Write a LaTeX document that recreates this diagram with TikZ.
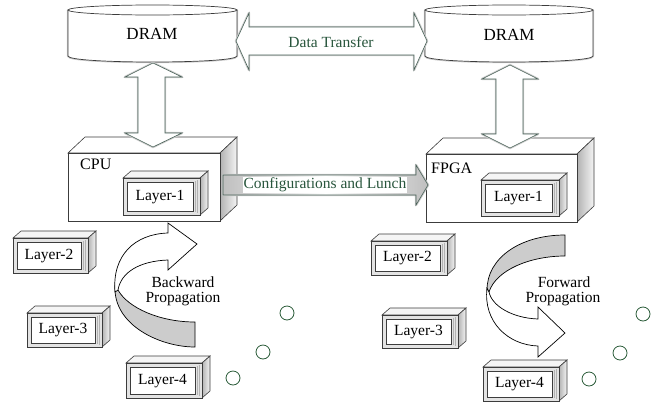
\documentclass[tikz,border=0pt]{standalone}
\usepackage{fontspec}
\setmainfont{Liberation Serif}
\definecolor{txtgreen}{RGB}{40,85,60}
\definecolor{arrline}{RGB}{70,95,85}
\definecolor{circg}{RGB}{40,90,55}
\definecolor{edge}{RGB}{60,60,60}
\tikzset{
  lbl/.style={font=\fontsize{15.5}{17}\selectfont, inner sep=0pt},
  glbl/.style={lbl, text=txtgreen},
  halo/.style={draw=gray!40, line width=2.4pt, line join=round},
  blockarrow/.style={fill=white, draw=arrline, line width=0.6pt, line join=miter},
  face/.style={fill=white, draw=edge, line width=0.6pt},
  sideface/.style={left color=gray!60, right color=gray!8, draw=edge, line width=0.6pt},
  topface/.style={fill=gray!8, draw=edge, line width=0.6pt},
  ring/.style={draw=circg, line width=0.8pt, fill=white},
  ribbon/.style={fill=white, draw=black, line width=0.7pt, line join=miter},
  ribbongray/.style={fill=gray!40, draw=black, line width=0.7pt},
}
% 3D layer box: name, x1, y1, x2, y2, label
\newcommand{\layerbox}[6]{%
  \draw[topface] (#2,#3) -- (#2+8,#3-7) -- (#4+8,#3-7) -- (#4,#3) -- cycle;
  \draw[sideface] (#4,#3) -- (#4+8,#3-7) -- (#4+8,#5-7) -- (#4,#5) -- cycle;
  \draw[fill=gray!22, draw=edge, line width=0.6pt] (#2,#3) rectangle (#4,#5);
  \draw[gray!60, line width=0.5pt] (#4-5,#3+3) -- (#4-5,#5-3) (#4-3,#3+2) -- (#4-3,#5-2);
  \draw[fill=white, draw=edge, line width=0.6pt] (#2+4,#3+4) rectangle (#4-7,#5-4);
  \node[lbl] (#1) at ({(#2+#4)/2-1.5},{(#3+#5)/2+0.5}) {#6};
}
% big 3D box: x1, y1, x2, y2
\newcommand{\bigbox}[4]{%
  \draw[face] (#1,#2) -- (#1+17,#2-16) -- (#3+17,#2-16) -- (#3,#2) -- cycle;
  \draw[sideface] (#3,#2) -- (#3+17,#2-16) -- (#3+17,#4-16) -- (#3,#4) -- cycle;
  \draw[face] (#1,#2) rectangle (#3,#4);
}
% cylinder: x1, x2
\newcommand{\drum}[2]{%
  \draw[halo] (#1,10) -- (#1,56) .. controls (#1,64) and (#2,64) .. (#2,56) -- (#2,10);
  \draw[fill=white, draw=edge, line width=0.7pt] (#1,10) -- (#1,56) .. controls (#1,64) and (#2,64) .. (#2,56) -- (#2,10) -- cycle;
  \draw[fill=white, draw=edge, line width=0.7pt] ({(#1+#2)/2},10) ellipse [x radius={(#2-#1)/2}, y radius=5];
}
\begin{document}
\begin{tikzpicture}[x=1pt,y=-1pt]
\useasboundingbox (0,0) rectangle (660,407);

% DRAM cylinders
\drum{68}{237}
\drum{425}{593}
\node[lbl, font=\fontsize{17}{19}\selectfont] (dramL) at (152,34) {DRAM};
\node[lbl, font=\fontsize{17}{19}\selectfont] (dramR) at (509,35) {DRAM};

% Data transfer double arrow
\coordinate (dtL) at (236,41);
\coordinate (dtR) at (427,41);
\draw[halo] (dtL) -- (249,13) -- (249,27) -- (414,27) -- (414,13) -- (dtR) -- (414,70) -- (414,55) -- (249,55) -- (249,70) -- cycle;
\draw[blockarrow] (dtL) -- (249,13) -- (249,27) -- (414,27) -- (414,13) -- (dtR) -- (414,70) -- (414,55) -- (249,55) -- (249,70) -- cycle;
\node[glbl] (dt) at (331,42) {Data Transfer};

% CPU and FPGA boxes
\bigbox{68}{153}{220}{221}
\bigbox{426}{154}{577}{222}
\node[lbl, anchor=west, font=\fontsize{16}{18}\selectfont] (cpu) at (80,164) {CPU};
\node[lbl, anchor=west, font=\fontsize{16}{18}\selectfont] (fpga) at (431,168) {FPGA};

% vertical double arrows
\coordinate (vL1) at (153,63);
\coordinate (vL2) at (153,147);
\draw[halo] (vL1) -- (182,77) -- (165,77) -- (165,133) -- (182,133) -- (vL2) -- (125,133) -- (138,133) -- (138,77) -- (125,77) -- cycle;
\draw[blockarrow] (vL1) -- (182,77) -- (165,77) -- (165,133) -- (182,133) -- (vL2) -- (125,133) -- (138,133) -- (138,77) -- (125,77) -- cycle;
\coordinate (vR1) at (510,65);
\coordinate (vR2) at (510,148);
\draw[halo] (vR1) -- (538,79) -- (523,79) -- (523,134) -- (538,134) -- (vR2) -- (482,134) -- (496,134) -- (496,79) -- (482,79) -- cycle;
\draw[blockarrow] (vR1) -- (538,79) -- (523,79) -- (523,134) -- (538,134) -- (vR2) -- (482,134) -- (496,134) -- (496,79) -- (482,79) -- cycle;

% Layer-1 boxes inside
\layerbox{cL1}{123}{178}{200}{215}{Layer-1}
\layerbox{fL1}{481}{180}{559}{216}{Layer-1}

% Configurations arrow
\coordinate (cfS) at (223,185);
\coordinate (cfT) at (428,185);
\draw[halo] (223,175) -- (416,175) -- (416,165) -- (cfT) -- (416,205) -- (416,195) -- (223,195) -- cycle;
\draw[blockarrow, left color=gray!50, right color=gray!50, middle color=white] (223,175) -- (416,175) -- (416,165) -- (cfT) -- (416,205) -- (416,195) -- (223,195) -- cycle;
\node[glbl, fill=white, inner xsep=1pt, inner ysep=1pt] (cf) at (325,185) {Configurations and Lunch};

% other layers
\layerbox{cL2}{13}{238}{88}{273}{Layer-2}
\layerbox{cL3}{27}{313}{102}{347}{Layer-3}
\layerbox{cL4}{126}{363}{202}{398}{Layer-4}
\layerbox{fL2}{371}{241}{447}{275}{Layer-2}
\layerbox{fL3}{382}{315}{458}{348}{Layer-3}
\layerbox{fL4}{483}{367}{559}{401}{Layer-4}

% Backward propagation arrow
\draw[ribbongray] (115,286) .. controls (113,325) and (160,347) .. (195,347) -- (195,322) .. controls (160,322) and (128,308) .. (118,290) -- cycle;
\draw[ribbon] (115,292) .. controls (112,255) and (135,234) .. (168,233) -- (168,223) -- (197,244) -- (168,270) -- (168,260) .. controls (140,261) and (121,272) .. (118,290) -- cycle;
\node[lbl] (bw1) at (183,282) {Backward};
\node[lbl] (bw2) at (183,299) {Propagation};

% Forward propagation arrow
\draw[ribbongray] (565,235) .. controls (520,235) and (487,258) .. (487,290) -- (489,292) .. controls (496,270) and (530,256) .. (565,256) -- cycle;
\draw[ribbon] (487,288) .. controls (483,322) and (508,345) .. (538,346) -- (538,357) -- (565,333) -- (538,307) -- (538,319) .. controls (512,318) and (492,306) .. (489,292) -- cycle;
\node[lbl] (fw1) at (564,282) {Forward};
\node[lbl] (fw2) at (563,299) {Propagation};

% ellipsis circles
\node[ring, circle, minimum size=14pt, inner sep=0pt] (c1) at (287,313) {};
\node[ring, circle, minimum size=14pt, inner sep=0pt] (c2) at (263,352) {};
\node[ring, circle, minimum size=14pt, inner sep=0pt] (c3) at (233,378) {};
\node[ring, circle, minimum size=14pt, inner sep=0pt] (c4) at (643,314) {};
\node[ring, circle, minimum size=14pt, inner sep=0pt] (c5) at (620,353) {};
\node[ring, circle, minimum size=14pt, inner sep=0pt] (c6) at (589,379) {};
\end{tikzpicture}
\end{document}
